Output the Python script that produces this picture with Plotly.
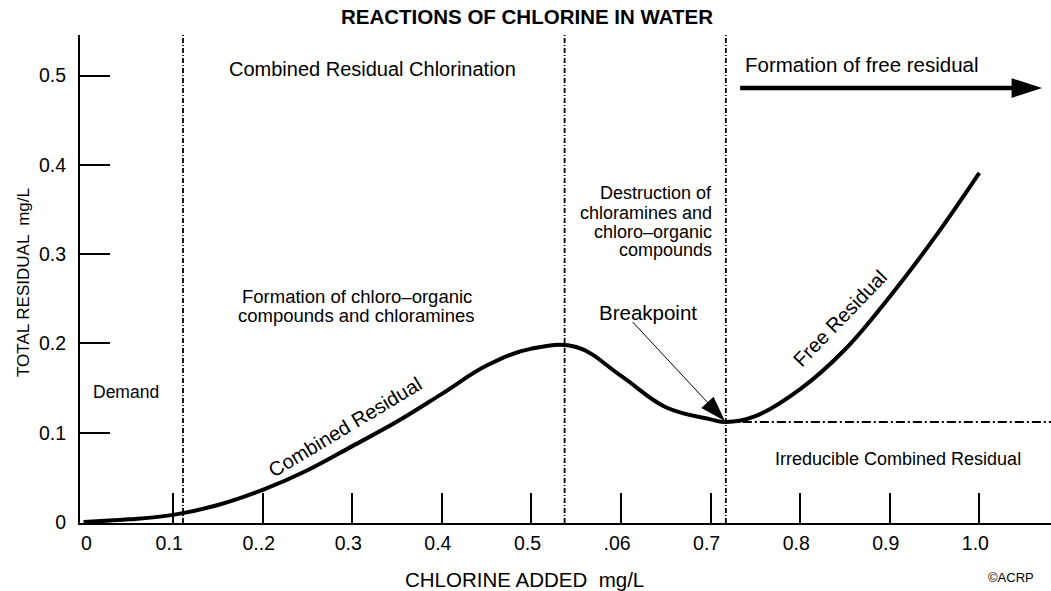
import plotly.graph_objects as go

# ---- data ----
chlorine_added = [0, 0.05, 0.1, 0.15, 0.2, 0.25, 0.3, 0.35, 0.4, 0.45, 0.5, 0.55,
                  0.6, 0.65, 0.7, 0.717, 0.75, 0.8, 0.85, 0.9, 0.95, 1.0]
total_residual = [0, 0.003, 0.008, 0.019, 0.036, 0.058, 0.085, 0.1125, 0.1435, 0.1752,
                  0.1942, 0.196, 0.1637, 0.1285, 0.115, 0.112, 0.1185, 0.1488,
                  0.1932, 0.2524, 0.3184, 0.391]

x_tick_vals = [0.1, 0.2, 0.3, 0.4, 0.5, 0.6, 0.7, 0.8, 0.9, 1.0]
x_tick_text = ["0.1", "0..2", "0.3", "0.4", "0.5", ".06", "0.7", "0.8", "0.9", "1.0"]
x_origin_label = "0"
y_tick_vals = [0, 0.1, 0.2, 0.3, 0.4, 0.5]
y_tick_text = ["0", "0.1", "0.2", "0.3", "0.4", "0.5"]

zone_boundaries = [0.111, 0.537, 0.717]
irreducible_residual = 0.112
breakpoint_arrow_x = [0.613, 0.716]
breakpoint_arrow_y = [0.224, 0.113]
free_arrow_x = [0.733, 1.070]
free_arrow_y = [0.486, 0.486]

FONT = "Liberation Sans, Arial, sans-serif"

fig = go.Figure()

fig.add_trace(go.Scatter(
    x=chlorine_added, y=total_residual, mode="lines",
    line=dict(color="black", width=4, shape="spline", smoothing=1.1),
    hoverinfo="skip"))

fig.add_trace(go.Scatter(
    x=breakpoint_arrow_x, y=breakpoint_arrow_y, mode="lines+markers",
    line=dict(color="black", width=1),
    marker=dict(symbol="arrow", size=[0, 27], color="#000000", opacity=1,
                line=dict(width=0), angleref="previous"),
    hoverinfo="skip"))

fig.add_trace(go.Scatter(
    x=free_arrow_x, y=free_arrow_y, mode="lines+markers",
    line=dict(color="black", width=4.5),
    marker=dict(symbol="arrow", size=[0, 32], color="#000000", opacity=1,
                line=dict(width=0), angleref="previous"),
    hoverinfo="skip"))

shapes = []
for xb in zone_boundaries:
    shapes.append(dict(type="line", xref="x", yref="paper", x0=xb, x1=xb, y0=0, y1=1,
                       line=dict(color="black", width=1.8, dash="5px,2px,1px,2px")))
shapes.append(dict(type="line", xref="x", yref="y", x0=zone_boundaries[2], x1=1.08,
                   y0=irreducible_residual, y1=irreducible_residual,
                   line=dict(color="black", width=2, dash="9px,3px,2px,3px")))

def ann(text, x, y, size=14, **kw):
    d = dict(text=text, x=x, y=y, xref="x", yref="y", showarrow=False,
             font=dict(family=FONT, size=size, color="black"))
    d.update(kw)
    return d

def pann(text, x, y, size=14, **kw):
    d = dict(text=text, x=x, y=y, xref="paper", yref="paper", showarrow=False,
             xanchor="center", yanchor="middle",
             font=dict(family=FONT, size=size, color="black"))
    d.update(kw)
    return d

annotations = [
    ann("Combined Residual Chlorination", 0.323, 0.507, 20),
    ann("Formation of chloro\u2013organic", 0.3052, 0.2531, 18.5),
    ann("compounds and chloramines", 0.3052, 0.2318, 18.5),
    ann("Demand", 0.047, 0.146, 17.5),
    ann("Destruction of", 0.7035, 0.3684, 18, xanchor="right"),
    ann("chloramines and", 0.7035, 0.3460, 18, xanchor="right"),
    ann("chloro\u2013organic", 0.7035, 0.3247, 18, xanchor="right"),
    ann("compounds", 0.7035, 0.3046, 18, xanchor="right"),
    ann("Breakpoint", 0.630, 0.235, 20.5),
    ann("Formation of free residual", 0.869, 0.512, 20.5),
    ann("Irreducible Combined Residual", 0.909, 0.0705, 18),
    ann("Combined Residual", 0.292, 0.106, 20, textangle=-31),
    ann("Free Residual", 0.845, 0.228, 20, textangle=-46),
    pann(x_origin_label, 0.0072, -0.041, 19.5),
    pann("\u00a9ACRP", 0.9588, -0.1127, 13),
    pann("CHLORINE ADDED \u00a0mg/L", 0.4573, -0.1148, 20.5),
    pann("TOTAL RESIDUAL \u00a0mg/L", -0.0587, 0.4918, 17, textangle=-90),
]

fig.update_layout(
    width=1051, height=591,
    margin=dict(l=80, r=0, t=35, b=68),
    paper_bgcolor="white", plot_bgcolor="white",
    showlegend=False,
    font=dict(family=FONT, color="black"),
    title=dict(text="<b>REACTIONS OF CHLORINE IN WATER</b>", x=527 / 1051, xref="container",
               y=1 - 17 / 591, yref="container", xanchor="center", yanchor="middle",
               font=dict(family=FONT, size=20.5, color="black")),
    shapes=shapes, annotations=annotations,
    xaxis=dict(range=[-0.004, 1.08], showgrid=False, zeroline=False,
               showline=True, linecolor="black", linewidth=2,
               tickmode="array", tickvals=x_tick_vals, ticktext=x_tick_text,
               ticks="inside", ticklen=30, tickwidth=2, tickcolor="black",
               tickfont=dict(family=FONT, size=19.5, color="black"),
               ticklabelshift=-4, ticklabelstandoff=2, fixedrange=True),
    yaxis=dict(range=[-0.0011, 0.5454], showgrid=False, zeroline=False,
               showline=True, linecolor="black", linewidth=2,
               tickmode="array", tickvals=y_tick_vals, ticktext=y_tick_text,
               ticks="inside", ticklen=30, tickwidth=2, tickcolor="black",
               tickfont=dict(family=FONT, size=19.5, color="black"),
               ticklabelstandoff=8, fixedrange=True),
)

fig.write_html("out.html", config={"displayModeBar": False, "staticPlot": True})

with open("out.html", "r", encoding="utf-8") as f:
    html = f.read()
html = html.replace("<body>", '<body style="margin:0;padding:0;overflow:hidden">', 1)
with open("out.html", "w", encoding="utf-8") as f:
    f.write(html)
